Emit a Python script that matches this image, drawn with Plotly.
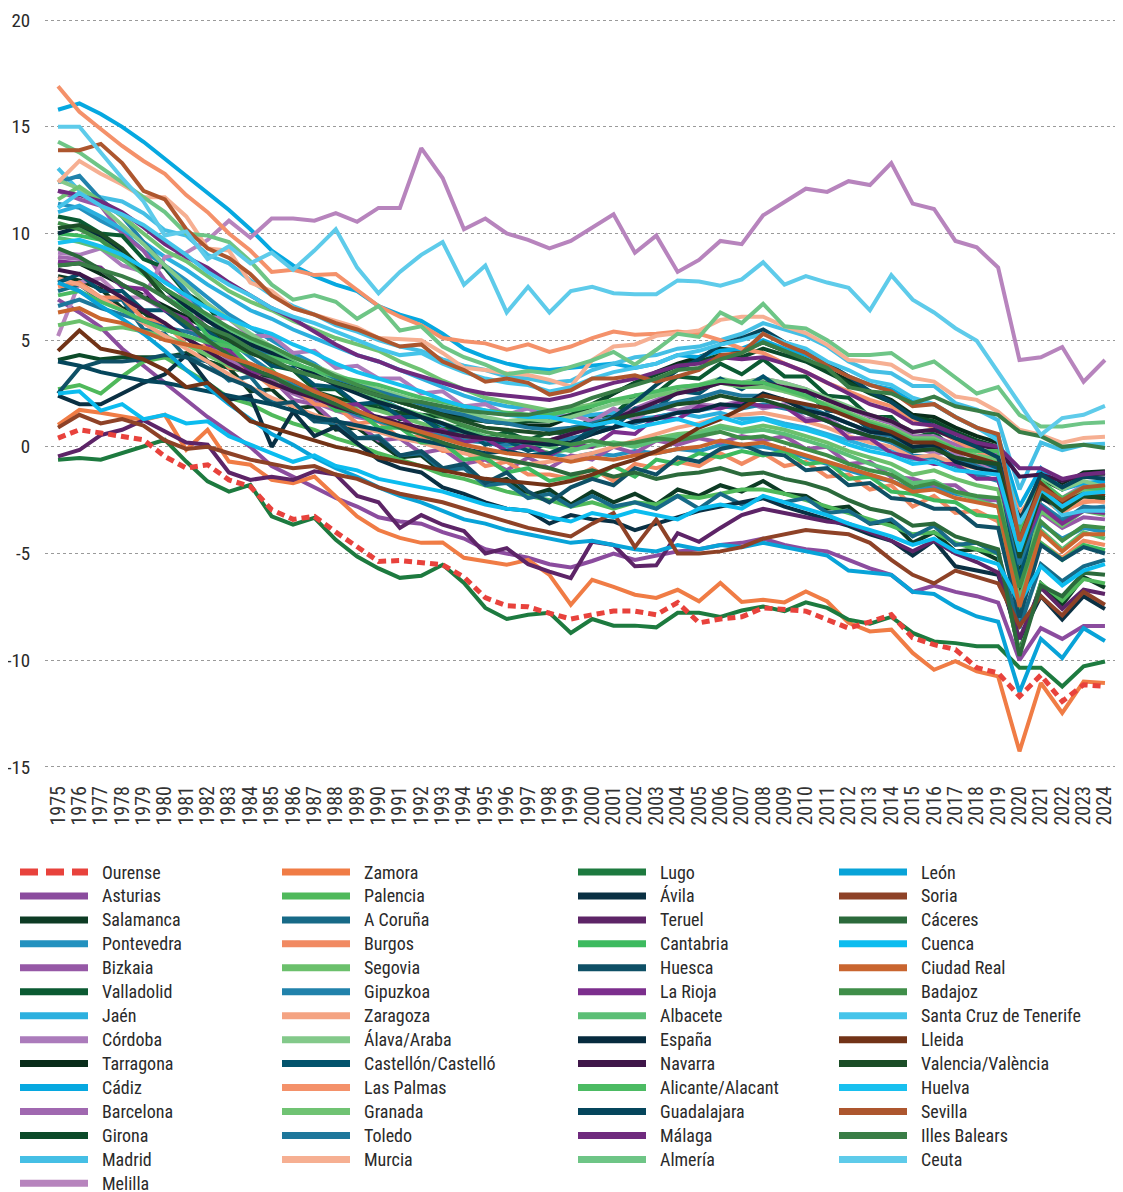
import plotly.graph_objects as go

years = list(range(1975, 2025))

# natural growth per province
ourense = [0.41, 0.8, 0.65, 0.5, 0.33, -0.45, -1.0, -0.84, -1.55, -1.86,
           -2.95, -3.4, -3.26, -4.0, -4.67, -5.37, -5.33, -5.42, -5.53, -6.1,
           -7.07, -7.45, -7.5, -7.8, -8.07, -7.87, -7.7, -7.7, -7.87, -7.3,
           -8.25, -8.07, -7.97, -7.55, -7.63, -7.7, -8.1, -8.5, -8.2, -7.87,
           -8.95, -9.27, -9.5, -10.35, -10.6, -11.7, -10.7, -11.93, -11.15, -11.23]
asturias = [6.9, 6.3, 5.6, 4.6, 3.8, 3.0, 2.2, 1.4, 0.7, 0.0,
            -0.9, -1.4, -1.9, -2.4, -2.8, -3.3, -3.5, -3.6, -4.0, -4.3,
            -4.8, -5.0, -5.2, -5.5, -5.65, -5.35, -5.0, -5.3, -5.1, -4.9,
            -4.8, -4.6, -4.5, -4.3, -4.6, -4.8, -4.9, -5.3, -5.7, -6.0,
            -6.8, -6.5, -6.8, -7.0, -7.3, -10.0, -8.5, -9.0, -8.4, -8.4]
salamanca = [8.0, 7.8, 7.4, 6.5, 6.3, 5.5, 5.2, 4.0, 3.7, 2.6,
             2.7, 1.8, 1.9, 0.8, 0.9, 0.2, -0.5, -0.4, -1.2, -0.9,
             -1.7, -1.5, -2.3, -2.0, -2.7, -2.1, -2.6, -2.2, -2.7, -2.0,
             -2.3, -1.8, -2.1, -1.6, -2.2, -2.3, -2.9, -2.8, -3.6, -3.5,
             -4.5, -4.0, -4.9, -4.8, -5.3, -9.6, -6.4, -7.4, -6.1, -6.6]
pontevedra = [11.4, 11.2, 10.6, 10.1, 9.2, 8.5, 7.8, 7.0, 6.2, 5.6,
              5.0, 4.4, 3.9, 3.2, 2.7, 2.3, 1.8, 1.4, 1.0, 0.6,
              0.2, 0.0, -0.1, -0.3, -0.5, -0.3, -0.4, -0.2, -0.3, -0.1,
              -0.2, 0.1, 0.0, 0.0, -0.2, -0.5, -0.8, -1.1, -1.4, -1.6,
              -2.0, -1.9, -2.2, -2.4, -2.5, -8.3, -3.6, -4.3, -3.8, -4.0]
bizkaia = [12.0, 11.6, 11.3, 10.0, 9.2, 7.8, 7.0, 5.4, 4.8, 3.5,
           3.2, 2.2, 2.0, 1.1, 1.1, 0.3, 0.4, -0.3, -0.1, -0.8,
           -0.6, -1.1, -0.5, -1.0, -0.4, -0.6, 0.0, -0.3, 0.3, 0.1,
           0.4, 0.2, 0.5, 0.3, 0.5, -0.1, 0.0, -0.8, -0.7, -1.4,
           -1.5, -1.8, -1.8, -2.5, -2.5, -5.5, -3.1, -3.8, -3.3, -3.4]
valladolid = [10.8, 10.6, 10.0, 9.9, 8.8, 8.4, 7.2, 6.6, 5.3, 4.9,
              3.8, 3.6, 2.7, 2.7, 1.9, 2.0, 1.3, 1.4, 0.8, 1.0,
              0.4, 0.7, 0.3, 0.7, 0.6, 1.4, 1.5, 2.4, 2.5, 3.3,
              3.2, 3.9, 3.4, 4.1, 3.3, 3.3, 2.4, 2.3, 1.4, 1.4,
              0.4, 0.7, -0.2, -0.1, -0.4, -6.8, -2.3, -3.1, -2.4, -2.5]
jaen = [11.0, 11.3, 10.8, 10.2, 9.6, 8.9, 8.3, 7.6, 7.0, 6.4,
        6.0, 5.5, 5.1, 4.7, 4.3, 4.0, 3.6, 3.2, 2.8, 2.4,
        2.1, 1.9, 1.8, 1.6, 1.4, 1.5, 1.6, 1.3, 1.4, 1.6,
        1.4, 1.6, 1.3, 1.35, 1.1, 0.9, 0.6, 0.3, 0.0, -0.2,
        -0.6, -0.5, -0.8, -0.9, -1.0, -4.2, -2.0, -2.7, -2.2, -2.05]
cordoba = [9.1, 9.0, 9.3, 8.5, 8.2, 7.0, 7.0, 6.1, 6.0, 5.2,
           5.2, 4.4, 4.5, 3.7, 3.8, 3.2, 3.2, 2.5, 2.6, 1.9,
           2.0, 1.5, 1.8, 1.3, 1.5, 1.2, 1.8, 1.3, 1.9, 1.7,
           2.0, 1.9, 2.2, 1.8, 2.0, 1.3, 1.4, 0.7, 0.8, 0.2,
           0.0, -0.3, -0.3, -0.9, -0.9, -5.5, -1.8, -2.4, -1.8, -1.7]
tarragona = [8.5, 8.6, 8.1, 7.6, 7.1, 6.6, 6.1, 5.5, 5.0, 4.6,
             4.3, 3.9, 3.5, 3.1, 2.7, 2.4, 2.1, 1.8, 1.6, 1.4,
             1.2, 1.1, 1.0, 1.0, 1.4, 1.9, 2.5, 3.0, 3.5, 3.9,
             4.2, 4.6, 4.5, 4.9, 4.5, 4.1, 3.6, 3.1, 2.6, 2.2,
             1.5, 1.4, 0.9, 0.5, 0.2, -3.9, -1.2, -1.8, -1.2, -1.15]
cadiz = [15.8, 16.1, 15.6, 15.0, 14.3, 13.5, 12.7, 11.9, 11.1, 10.2,
         9.2, 8.5, 8.0, 7.6, 7.3, 6.6, 6.2, 5.9, 5.3, 4.6,
         4.2, 3.9, 3.7, 3.6, 3.7, 3.8, 3.9, 3.7, 3.9, 4.3,
         4.2, 4.5, 4.6, 5.0, 4.6, 4.3, 3.9, 3.3, 2.9, 2.7,
         2.1, 2.0, 1.4, 0.9, 0.5, -2.8, -1.0, -2.0, -1.7, -1.6]
barcelona = [8.9, 8.8, 8.3, 7.6, 7.0, 6.4, 5.6, 4.8, 4.1, 3.5,
             3.0, 2.5, 2.1, 1.7, 1.4, 1.2, 1.0, 0.8, 0.6, 0.4,
             0.3, 0.2, 0.3, 0.3, 0.6, 1.0, 1.4, 1.8, 2.2, 2.6,
             2.8, 3.1, 3.0, 3.2, 3.0, 2.7, 2.2, 1.8, 1.4, 1.1,
             0.5, 0.5, 0.1, -0.2, -0.4, -4.6, -1.4, -1.9, -1.4, -1.3]
girona = [4.07, 4.3, 4.1, 4.2, 4.2, 4.2, 4.4, 4.0, 3.7, 3.5,
          3.3, 3.0, 2.6, 2.3, 2.0, 1.8, 1.6, 1.5, 1.4, 1.3,
          1.2, 1.1, 1.2, 1.2, 1.5, 2.0, 2.5, 3.0, 3.4, 3.8,
          4.0, 4.3, 4.2, 4.6, 4.3, 4.0, 3.5, 3.0, 2.5, 2.1,
          1.4, 1.2, 0.7, 0.3, 0.0, -6.1, -1.5, -2.0, -1.3, -1.25]
madrid = [13.05, 12.0, 11.7, 11.5, 10.95, 10.15, 9.9, 9.0, 8.6, 7.8,
          7.1, 6.6, 6.2, 5.7, 5.4, 5.0, 4.7, 4.5, 4.1, 3.8,
          3.6, 3.3, 3.2, 3.0, 3.1, 3.6, 3.9, 4.2, 4.3, 4.6,
          4.7, 5.0, 5.3, 5.8, 5.5, 5.2, 4.7, 4.0, 3.55, 3.45,
          2.85, 2.85, 2.05, 1.75, 1.25, -2.0, 0.2, -0.15, 0.1, 0.15]
melilla = [5.2, 7.7, 7.9, 7.0, 7.0, 8.9, 9.1, 9.7, 10.6, 9.8,
           10.7, 10.7, 10.6, 10.95, 10.55, 11.2, 11.2, 14.0, 12.6, 10.2,
           10.7, 10.0, 9.7, 9.3, 9.65, 10.25, 10.9, 9.1, 9.9, 8.2,
           8.76, 9.65, 9.5, 10.85, 11.5, 12.1, 11.95, 12.45, 12.27, 13.3,
           11.4, 11.15, 9.65, 9.35, 8.4, 4.07, 4.2, 4.68, 3.05, 4.07]
zamora = [1.03, 1.73, 1.6, 1.42, 1.26, 1.5, -0.14, 0.8, -0.69, -0.84,
          -1.55, -1.7, -1.39, -2.33, -3.26, -3.9, -4.27, -4.5, -4.48, -5.2,
          -5.37, -5.53, -5.3, -6.0, -7.4, -6.23, -6.56, -6.93, -7.08, -6.7,
          -7.24, -6.38, -7.27, -7.17, -7.29, -6.78, -7.25, -8.25, -8.65, -8.57,
          -9.66, -10.45, -10.05, -10.52, -10.76, -14.27, -11.07, -12.47, -11.0, -11.07]
palencia = [2.7, 2.9, 2.5, 3.3, 4.0, 4.2, 3.6, 3.0, 2.3, 2.0,
            1.5, 1.1, 0.8, 0.4, 0.1, -0.3, -0.6, -0.9, -1.3, -1.5,
            -1.8, -2.1, -2.3, -2.5, -2.8, -2.6, -2.9, -2.6, -2.7, -2.3,
            -2.4, -2.2, -2.0, -2.0, -2.2, -2.5, -2.8, -3.1, -3.4, -3.7,
            -4.1, -4.0, -4.5, -4.8, -5.0, -9.7, -6.4, -7.2, -6.2, -6.4]
coruna = [7.3, 7.6, 6.9, 6.9, 5.5, 5.3, 4.2, 4.0, 3.1, 3.3,
          2.1, 2.0, 1.2, 1.1, 0.4, 0.5, -0.4, -0.3, -1.1, -1.0,
          -1.8, -1.7, -2.4, -2.2, -2.8, -2.3, -2.8, -2.6, -2.9, -2.3,
          -2.9, -2.2, -2.7, -2.4, -2.6, -2.4, -3.1, -3.0, -3.6, -3.4,
          -4.2, -3.7, -4.6, -4.5, -5.0, -8.5, -5.5, -6.3, -5.6, -5.3]
burgos = [7.5, 7.7, 7.0, 7.0, 6.0, 5.8, 4.8, 4.7, 3.7, 3.6,
          2.8, 2.8, 2.0, 1.9, 1.1, 1.2, 0.4, 0.5, -0.2, -0.2,
          -0.9, -0.7, -1.3, -1.3, -1.5, -1.0, -1.6, -0.8, -1.0, -0.7,
          -0.9, -0.3, -0.8, -0.3, -0.9, -0.7, -1.4, -1.3, -2.0, -1.8,
          -2.8, -2.3, -3.1, -3.0, -3.5, -7.1, -4.5, -5.2, -4.4, -4.6]
segovia = [5.7, 5.9, 5.5, 5.6, 5.4, 5.2, 4.8, 4.3, 3.8, 3.4,
           3.0, 2.7, 2.4, 2.1, 1.9, 1.7, 1.4, 1.1, 0.8, 0.5,
           0.3, 0.1, 0.0, -0.3, -0.1, 0.0, 0.2, 0.1, 0.4, 0.6,
           0.7, 1.0, 0.8, 1.0, 0.8, 0.5, 0.2, -0.2, -0.5, -0.8,
           -1.3, -1.1, -1.5, -1.8, -2.0, -6.2, -3.0, -3.7, -3.0, -3.2]
gipuzkoa = [12.4, 12.7, 11.6, 10.8, 9.6, 8.5, 7.3, 6.0, 5.0, 4.2,
            3.5, 2.9, 2.4, 1.9, 1.5, 1.2, 0.9, 0.7, 0.5, 0.3,
            0.2, 0.1, 0.2, 0.2, 0.4, 0.6, 0.9, 1.1, 1.4, 1.6,
            1.7, 1.9, 1.8, 2.0, 1.8, 1.6, 1.2, 0.8, 0.5, 0.2,
            -0.4, -0.5, -0.9, -1.3, -1.6, -3.8, -2.7, -3.4, -2.9, -2.8]
zaragoza = [7.9, 7.6, 7.0, 6.4, 5.8, 5.2, 4.6, 4.0, 3.4, 2.8,
            2.3, 1.9, 1.5, 1.2, 0.9, 0.7, 0.4, 0.2, -0.1, -0.3,
            -0.5, -0.6, -0.8, -0.7, -0.5, -0.3, 0.0, 0.3, 0.6, 0.9,
            1.1, 1.4, 1.5, 1.6, 1.4, 1.2, 0.9, 0.5, 0.2, 0.0,
            -0.5, -0.4, -0.8, -1.0, -1.2, -5.0, -2.3, -3.1, -2.5, -2.6]
alava = [12.5, 12.1, 11.3, 10.4, 9.5, 8.5, 7.6, 6.7, 6.0, 5.3,
         4.7, 4.2, 3.8, 3.4, 3.0, 2.7, 2.4, 2.1, 1.8, 1.6,
         1.4, 1.2, 1.3, 1.2, 1.4, 1.7, 2.0, 2.2, 2.5, 2.8,
         2.9, 3.2, 3.0, 3.2, 3.0, 2.7, 2.3, 1.9, 1.5, 1.2,
         0.7, 0.8, 0.4, 0.1, 0.0, -3.3, -1.4, -2.0, -1.6, -1.9]
castellon = [7.7, 8.1, 7.3, 7.3, 6.4, 6.4, 5.6, 5.5, 4.6, 4.6,
             3.8, 3.7, 2.9, 2.8, 2.0, 2.1, 1.4, 1.4, 0.7, 0.8,
             0.1, 0.3, -0.2, 0.2, 0.1, 0.9, 0.9, 1.8, 1.8, 2.6,
             2.5, 3.2, 2.7, 3.3, 2.6, 2.6, 1.7, 1.6, 0.8, 0.8,
             -0.2, 0.2, -0.6, -0.6, -1.0, -6.3, -2.1, -2.9, -2.2, -2.3]
las_palmas = [16.9, 15.7, 14.9, 14.1, 13.4, 12.8, 11.8, 11.0, 10.0, 9.2,
              8.2, 8.3, 8.05, 8.1, 7.35, 6.6, 6.1, 5.7, 5.1, 4.95,
              4.85, 4.55, 4.8, 4.45, 4.7, 5.1, 5.4, 5.25, 5.3, 5.4,
              5.3, 5.0, 4.6, 4.4, 3.9, 3.5, 3.0, 2.6, 2.2, 1.9,
              1.3, 0.9, 0.3, -0.2, -0.6, -3.1, -2.0, -3.0, -2.6, -2.5]
granada = [11.6, 12.2, 11.5, 10.8, 10.0, 9.2, 8.7, 8.0, 7.3, 6.8,
           6.4, 5.9, 5.5, 5.1, 4.8, 4.5, 4.0, 3.6, 3.1, 2.7,
           2.3, 2.1, 1.9, 1.7, 1.8, 2.0, 2.2, 2.1, 2.4, 2.6,
           2.7, 3.0, 2.8, 2.8, 2.6, 2.3, 2.0, 1.6, 1.2, 0.9,
           0.4, 0.4, -0.1, -0.4, -0.6, -4.8, -1.9, -2.6, -2.0, -2.1]
toledo = [6.6, 6.9, 6.5, 6.2, 5.9, 5.6, 5.4, 5.1, 4.8, 4.6,
          4.3, 3.9, 3.5, 3.2, 2.9, 2.6, 2.3, 2.0, 1.7, 1.5,
          1.2, 1.1, 0.9, 0.8, 0.9, 1.1, 1.4, 1.6, 1.9, 2.1,
          2.3, 2.6, 2.4, 2.4, 2.2, 1.9, 1.5, 1.1, 0.7, 0.5,
          -0.1, 0.0, -0.5, -0.9, -1.3, -5.5, -2.8, -3.5, -2.8, -2.9]
murcia = [12.4, 13.4, 12.8, 12.3, 11.7, 11.7, 10.8, 9.3, 9.2, 7.7,
          7.3, 6.5, 6.2, 5.9, 5.6, 5.1, 5.05, 5.0, 4.4, 3.7,
          3.6, 3.45, 3.37, 3.14, 2.83, 4.07, 4.7, 4.8, 5.2, 5.33,
          5.45, 5.95, 6.1, 6.1, 5.65, 5.33, 4.78, 4.07, 4.0, 3.85,
          3.23, 3.06, 2.36, 2.2, 1.65, 0.8, 0.56, 0.19, 0.42, 0.47]
lugo = [-0.6, -0.52, -0.6, -0.3, 0.02, 0.33, -0.69, -1.62, -2.1, -1.78,
        -3.26, -3.65, -3.33, -4.36, -5.14, -5.7, -6.14, -6.04, -5.53, -6.38,
        -7.55, -8.07, -7.87, -7.78, -8.72, -8.07, -8.38, -8.38, -8.46, -7.78,
        -7.78, -7.97, -7.67, -7.48, -7.7, -7.29, -7.55, -8.1, -8.29, -7.97,
        -8.72, -9.12, -9.2, -9.35, -9.35, -10.35, -10.35, -11.23, -10.29, -10.06]
avila = [2.4, 2.0, 2.0, 2.5, 3.0, 3.4, 4.3, 3.0, 2.2, 2.4,
         0.0, 1.65, 0.5, 0.95, 0.2, -0.6, -1.0, -1.2, -1.9, -2.2,
         -2.6, -2.9, -3.0, -3.6, -3.2, -3.4, -3.5, -3.9, -3.6, -3.3,
         -3.0, -2.8, -2.6, -2.4, -2.8, -3.1, -3.4, -3.7, -4.1, -4.4,
         -5.1, -4.4, -5.6, -5.8, -6.0, -9.0, -7.0, -8.1, -7.0, -7.6]
teruel = [-0.45, -0.15, 0.55, 0.8, 1.25, 0.7, 0.2, 0.1, -1.2, -1.55,
          -1.4, -1.55, -1.15, -1.3, -2.3, -2.6, -3.8, -3.2, -3.65, -3.95,
          -5.0, -4.75, -5.5, -5.85, -6.15, -4.45, -4.6, -5.6, -5.55, -4.05,
          -4.45, -3.8, -3.2, -2.9, -3.1, -3.3, -3.5, -3.6, -4.0, -4.4,
          -4.9, -4.4, -5.0, -5.4, -5.9, -9.0, -6.6, -7.6, -6.7, -6.9]
cantabria = [10.0, 9.9, 9.7, 8.8, 8.3, 7.0, 6.5, 5.2, 4.8, 3.8,
             3.6, 2.7, 2.6, 1.7, 1.7, 0.9, 0.9, 0.2, 0.2, -0.6,
             -0.5, -1.2, -1.0, -1.6, -1.4, -1.5, -0.9, -1.4, -0.6, -0.8,
             -0.3, -0.5, -0.2, -0.4, -0.2, -0.8, -0.7, -1.5, -1.4, -2.1,
             -2.2, -2.5, -2.6, -3.2, -3.3, -7.8, -4.5, -5.3, -4.6, -4.85]
huesca = [2.5, 3.7, 4.0, 4.0, 4.1, 4.3, 4.2, 3.7, 3.2, 2.8,
          2.0, 2.1, 1.2, 1.3, 0.4, 0.4, -0.4, -0.2, -1.0, -0.8,
          -1.7, -1.2, -2.1, -2.6, -1.9, -1.5, -1.8, -1.0, -1.3, -0.5,
          -0.7, -0.1, 0.1, -0.3, -0.4, -1.1, -1.0, -1.8, -1.7, -2.4,
          -2.5, -2.9, -2.9, -3.7, -3.8, -8.0, -4.6, -5.3, -4.7, -5.0]
la_rioja = [8.7, 8.6, 8.4, 7.5, 7.4, 6.4, 6.0, 4.8, 4.5, 3.5,
            3.4, 2.6, 2.7, 1.9, 2.0, 1.3, 1.4, 0.7, 0.8, 0.2,
            0.4, -0.2, 0.1, -0.4, 0.1, 0.0, 0.7, 0.6, 1.4, 1.3,
            1.9, 1.8, 2.1, 1.9, 1.9, 1.2, 1.3, 0.4, 0.4, -0.3,
            -0.5, -0.8, -0.8, -1.5, -1.5, -5.0, -2.8, -3.6, -3.0, -3.1]
albacete = [9.8, 9.6, 9.3, 8.8, 8.1, 7.4, 6.8, 6.1, 5.5, 5.0,
            4.5, 4.0, 3.5, 3.0, 2.6, 2.2, 1.8, 1.5, 1.1, 0.8,
            0.5, 0.3, 0.2, 0.0, -0.2, 0.1, 0.2, 0.0, 0.3, 0.5,
            0.6, 0.9, 0.7, 0.8, 0.6, 0.3, 0.0, -0.4, -0.8, -1.1,
            -1.7, -1.6, -2.1, -2.5, -2.8, -7.2, -3.9, -4.8, -4.0, -4.3]
espana = [10.0, 10.3, 9.9, 9.2, 8.3, 7.4, 6.6, 5.9, 5.3, 4.8,
          4.4, 3.9, 3.4, 2.9, 2.5, 2.1, 1.8, 1.4, 1.1, 0.7,
          0.4, 0.3, 0.2, 0.1, 0.2, 0.6, 0.9, 1.2, 1.3, 1.6,
          1.7, 2.0, 1.9, 2.5, 2.2, 1.7, 1.5, 1.1, 0.7, 0.6,
          0.0, 0.1, -0.7, -1.0, -1.2, -3.3, -2.4, -2.9, -2.3, -2.4]
navarra = [8.3, 8.1, 7.6, 7.0, 6.4, 5.8, 5.1, 4.5, 3.9, 3.4,
           3.0, 2.6, 2.3, 1.9, 1.6, 1.4, 1.1, 0.9, 0.7, 0.5,
           0.4, 0.3, 0.3, 0.3, 0.6, 0.9, 1.3, 1.7, 2.1, 2.5,
           2.7, 3.0, 2.9, 3.0, 2.8, 2.6, 2.2, 1.8, 1.5, 1.2,
           0.7, 0.8, 0.4, 0.1, -0.1, -1.4, -1.3, -1.6, -1.3, -1.2]
alicante = [7.1, 7.3, 6.8, 6.4, 5.9, 5.5, 5.2, 4.9, 4.7, 4.4,
            4.2, 3.9, 3.6, 3.3, 3.1, 2.9, 2.6, 2.3, 2.1, 1.9,
            1.7, 1.6, 1.5, 1.5, 1.7, 1.9, 2.2, 2.4, 2.6, 2.8,
            2.9, 3.1, 3.0, 3.0, 2.7, 2.4, 1.9, 1.5, 1.1, 0.8,
            0.3, 0.3, -0.1, -0.2, -0.2, -4.0, -1.6, -2.4, -1.9, -2.0]
guadalajara = [4.0, 3.8, 3.5, 3.3, 3.1, 3.0, 2.8, 2.6, 2.4, 2.2,
               2.0, 1.7, 1.4, 1.2, 1.0, 0.8, 0.5, 0.3, 0.1, -0.1,
               -0.3, -0.2, -0.4, -0.3, 0.1, 0.7, 1.4, 2.1, 2.9, 3.6,
               4.1, 4.8, 5.1, 5.5, 4.9, 4.5, 3.9, 3.3, 2.6, 2.1,
               1.4, 1.0, 0.4, 0.0, -0.5, -3.5, -1.3, -1.9, -1.4, -1.5]
malaga = [12.0, 11.8, 11.5, 11.0, 10.3, 9.5, 8.9, 8.4, 7.7, 7.1,
          6.5, 6.0, 5.4, 4.8, 4.3, 4.0, 3.6, 3.3, 3.0, 2.7,
          2.5, 2.4, 2.3, 2.2, 2.4, 2.7, 3.0, 3.2, 3.5, 3.8,
          3.9, 4.2, 4.1, 4.2, 3.9, 3.5, 3.0, 2.5, 2.0, 1.7,
          1.1, 1.0, 0.6, 0.2, 0.0, -1.0, -1.0, -1.5, -1.3, -1.2]
almeria = [14.3, 13.8, 13.1, 12.4, 11.7, 11.0, 10.0, 9.9, 9.6, 8.7,
           7.6, 6.9, 7.1, 6.8, 6.0, 6.6, 5.45, 5.65, 4.7, 4.2,
           3.85, 3.4, 3.55, 3.45, 3.75, 4.05, 4.45, 3.85, 4.55, 5.3,
           5.15, 6.3, 5.8, 6.7, 5.65, 5.55, 5.0, 4.3, 4.3, 4.4,
           3.7, 4.0, 3.25, 2.5, 2.8, 1.5, 0.95, 0.95, 1.1, 1.15]
leon = [7.7, 7.3, 6.6, 6.0, 5.3, 4.5, 3.6, 2.8, 2.0, 1.3,
        0.6, 0.1, -0.5, -1.0, -1.4, -1.9, -2.3, -2.6, -3.0, -3.4,
        -3.6, -3.9, -4.1, -4.3, -4.5, -4.4, -4.6, -4.8, -4.9, -4.6,
        -4.8, -4.6, -4.7, -4.5, -4.7, -4.9, -5.1, -5.8, -5.9, -6.0,
        -6.8, -6.9, -7.5, -7.95, -8.2, -11.5, -9.0, -9.9, -8.5, -9.1]
soria = [0.9, 1.5, 1.1, 1.3, 1.0, 0.3, -0.1, 0.0, -0.3, -0.6,
         -0.8, -1.0, -0.9, -1.3, -1.5, -1.9, -2.2, -2.4, -2.6, -2.9,
         -3.2, -3.5, -3.8, -4.0, -4.2, -3.6, -3.1, -4.7, -3.4, -5.0,
         -5.0, -4.9, -4.7, -4.3, -4.1, -3.9, -4.0, -4.1, -4.5, -5.3,
         -6.0, -6.4, -5.8, -6.1, -6.4, -8.4, -7.0, -7.9, -6.8, -7.4]
caceres = [9.3, 8.9, 8.3, 7.6, 7.0, 6.5, 5.8, 5.0, 4.3, 3.7,
           3.3, 2.8, 2.4, 2.0, 1.6, 1.3, 0.9, 0.6, 0.2, -0.1,
           -0.4, -0.6, -0.8, -1.0, -1.3, -1.1, -1.4, -1.2, -1.5, -1.3,
           -1.2, -1.0, -1.3, -1.2, -1.5, -1.7, -2.0, -2.5, -2.9, -3.1,
           -3.7, -3.6, -4.2, -4.5, -4.8, -9.8, -6.5, -7.0, -5.9, -6.0]
cuenca = [2.5, 2.6, 1.7, 2.0, 1.3, 1.5, 1.1, 1.2, 0.5, 0.1,
          -0.3, -0.7, -0.4, -0.9, -1.1, -1.5, -1.7, -1.9, -2.1, -2.4,
          -2.7, -2.9, -3.0, -3.3, -3.5, -3.1, -3.3, -3.0, -3.2, -3.4,
          -2.9, -2.7, -2.9, -2.3, -2.6, -2.9, -3.2, -3.6, -3.9, -4.2,
          -4.6, -4.3, -4.9, -5.2, -5.5, -7.3, -5.6, -6.5, -5.8, -5.5]
ciudad_real = [6.3, 6.5, 6.0, 5.8, 5.4, 5.0, 4.8, 4.6, 4.2, 3.9,
               3.5, 3.1, 2.6, 2.2, 1.7, 1.3, 1.0, 0.7, 0.4, 0.1,
               -0.1, -0.3, -0.4, -0.5, -0.7, -0.5, -0.6, -0.4, -0.3, -0.1,
               0.0, 0.3, 0.1, 0.2, -0.1, -0.4, -0.7, -1.0, -1.3, -1.6,
               -2.1, -2.0, -2.4, -2.6, -2.8, -7.5, -4.0, -4.9, -4.1, -4.1]
badajoz = [10.5, 10.2, 9.7, 9.0, 8.2, 7.4, 6.8, 6.2, 5.6, 5.1,
           4.7, 4.2, 3.8, 3.3, 2.9, 2.5, 2.1, 1.8, 1.4, 1.0,
           0.7, 0.5, 0.4, 0.3, 0.1, 0.3, 0.1, 0.2, 0.4, 0.3,
           0.5, 0.7, 0.4, 0.5, 0.2, -0.1, -0.4, -0.8, -1.1, -1.3,
           -1.9, -1.7, -2.1, -2.3, -2.4, -6.6, -3.5, -4.4, -3.7, -3.8]
santa_cruz = [11.2, 11.9, 11.3, 10.9, 10.4, 9.7, 9.0, 8.2, 7.6, 7.1,
              6.5, 6.1, 5.8, 5.4, 5.0, 4.6, 4.3, 4.4, 3.9, 3.5,
              3.2, 3.0, 2.9, 2.6, 2.8, 3.2, 3.5, 3.7, 3.9, 4.3,
              4.5, 4.8, 5.0, 5.3, 4.9, 4.6, 4.0, 3.6, 3.1, 2.9,
              2.3, 2.0, 1.4, 0.9, 0.3, -3.6, -2.0, -3.2, -3.0, -3.0]
lleida = [4.5, 5.45, 4.6, 4.4, 4.1, 3.6, 2.8, 3.0, 2.1, 1.2,
          0.9, 0.6, 0.3, 0.0, -0.2, -0.5, -0.7, -0.9, -1.1, -1.3,
          -1.5, -1.6, -1.7, -1.8, -1.6, -1.3, -0.9, -0.6, -0.2, 0.3,
          0.9, 1.3, 1.8, 2.4, 2.2, 2.0, 1.8, 1.4, 1.0, 0.7,
          0.2, 0.2, -0.2, -0.5, -0.8, -4.4, -1.7, -2.6, -2.2, -2.3]
valencia = [10.25, 10.4, 10.0, 9.3, 8.2, 7.0, 6.3, 5.6, 5.0, 4.4,
            4.0, 3.6, 3.3, 3.0, 2.7, 2.4, 2.1, 1.8, 1.5, 1.2,
            0.9, 0.8, 0.7, 0.6, 0.8, 1.0, 1.3, 1.5, 1.7, 2.0,
            2.1, 2.4, 2.2, 2.2, 1.9, 1.6, 1.2, 0.8, 0.5, 0.3,
            -0.2, -0.1, -0.5, -0.7, -0.8, -5.2, -2.2, -3.0, -2.3, -2.4]
huelva = [9.55, 9.7, 9.4, 9.0, 8.4, 7.7, 7.1, 6.5, 6.0, 5.6,
          5.3, 4.8, 4.4, 3.9, 3.5, 3.2, 2.9, 2.6, 2.2, 1.9,
          1.7, 1.5, 1.4, 1.4, 1.2, 1.0, 1.2, 0.9, 1.1, 1.3,
          1.0, 1.4, 1.1, 1.3, 1.0, 0.8, 0.5, 0.1, -0.2, -0.4,
          -0.8, -0.7, -1.1, -1.2, -1.3, -4.9, -2.0, -2.8, -2.2, -2.1]
sevilla = [13.9, 13.9, 14.2, 13.3, 12.0, 11.6, 10.2, 9.3, 8.85, 8.1,
           7.1, 6.5, 6.2, 5.8, 5.5, 5.1, 4.7, 4.8, 4.0, 3.6,
           3.05, 3.2, 3.0, 2.45, 2.65, 3.2, 3.2, 3.35, 3.05, 3.3,
           3.6, 4.3, 4.4, 5.3, 4.8, 4.4, 3.8, 3.3, 2.9, 2.6,
           1.9, 2.0, 1.4, 0.9, 0.6, -4.4, -1.9, -2.5, -1.9, -1.8]
balears = [8.5, 8.6, 8.3, 8.0, 7.6, 7.0, 6.3, 5.6, 5.2, 4.6,
           4.1, 3.6, 3.3, 3.0, 2.7, 2.4, 2.2, 2.1, 1.9, 1.7,
           1.6, 1.5, 1.5, 1.7, 1.9, 2.3, 2.6, 2.9, 3.2, 3.6,
           3.7, 4.1, 4.4, 4.9, 4.5, 4.1, 3.7, 2.8, 2.6, 2.5,
           2.05, 2.35, 1.9, 1.7, 1.5, 0.7, 0.5, 0.0, 0.1, -0.05]
ceuta = [15.0, 15.0, 13.8, 12.6, 11.5, 9.9, 10.1, 8.8, 9.4, 8.6,
         9.1, 8.3, 9.2, 10.2, 8.4, 7.2, 8.2, 9.0, 9.6, 7.6,
         8.5, 6.3, 7.5, 6.3, 7.3, 7.5, 7.2, 7.15, 7.15, 7.8,
         7.75, 7.55, 7.85, 8.65, 7.6, 8.0, 7.7, 7.45, 6.4, 8.05,
         6.9, 6.3, 5.56, 4.97, 3.5, 2.06, 0.56, 1.35, 1.5, 1.92]

y_ticks = [-15, -10, -5, 0, 5, 10, 15, 20]

# legend columns, top to bottom: (label, values, colour)
columns = [
    [("Ourense", ourense, "#e8423c"), ("Asturias", asturias, "#8b4c9e"),
     ("Salamanca", salamanca, "#0d3b24"), ("Pontevedra", pontevedra, "#2391bf"),
     ("Bizkaia", bizkaia, "#9658a6"), ("Valladolid", valladolid, "#0b5a32"),
     ("Jaén", jaen, "#2cb0df"), ("Córdoba", cordoba, "#ab7bbb"),
     ("Tarragona", tarragona, "#082c1a"), ("Cádiz", cadiz, "#06a8e0"),
     ("Barcelona", barcelona, "#a068b0"), ("Girona", girona, "#0b4a29"),
     ("Madrid", madrid, "#45bfe5"), ("Melilla", melilla, "#b784bd")],
    [("Zamora", zamora, "#f07c45"), ("Palencia", palencia, "#4fb95b"),
     ("A Coruña", coruna, "#176a87"), ("Burgos", burgos, "#f18a62"),
     ("Segovia", segovia, "#6bc06c"), ("Gipuzkoa", gipuzkoa, "#2182ab"),
     ("Zaragoza", zaragoza, "#f4a382"), ("Álava/Araba", alava, "#83c98a"),
     ("Castellón/Castelló", castellon, "#03536c"), ("Las Palmas", las_palmas, "#f4916a"),
     ("Granada", granada, "#70c373"), ("Toledo", toledo, "#1e779b"),
     ("Murcia", murcia, "#f6af92")],
    [("Lugo", lugo, "#1d7a3f"), ("Ávila", avila, "#0a3043"),
     ("Teruel", teruel, "#5d2467"), ("Cantabria", cantabria, "#3dba5f"),
     ("Huesca", huesca, "#0f5066"), ("La Rioja", la_rioja, "#7c2e8d"),
     ("Albacete", albacete, "#5cbf76"), ("España", espana, "#062b3e"),
     ("Navarra", navarra, "#3f1649"), ("Alicante/Alacant", alicante, "#4cbb63"),
     ("Guadalajara", guadalajara, "#05465c"), ("Málaga", malaga, "#6f2a7e"),
     ("Almería", almeria, "#6ec586")],
    [("León", leon, "#08a3d8"), ("Soria", soria, "#8e4227"),
     ("Cáceres", caceres, "#2b6a3b"), ("Cuenca", cuenca, "#0cbcef"),
     ("Ciudad Real", ciudad_real, "#c9652f"), ("Badajoz", badajoz, "#3f8e49"),
     ("Santa Cruz de Tenerife", santa_cruz, "#45c4ea"), ("Lleida", lleida, "#723317"),
     ("Valencia/València", valencia, "#1b4d27"), ("Huelva", huelva, "#18c0ef"),
     ("Sevilla", sevilla, "#ad562e"), ("Illes Balears", balears, "#397d46"),
     ("Ceuta", ceuta, "#5ecbea")],
]

# the page body adds an 8px offset, so the figure is laid out 8px up/left
W, H = 1123, 1192
L, R, T, B = 37, 16, 10, 431
FONT = "Liberation Sans Narrow, Roboto Condensed, Roboto, sans-serif"

fig = go.Figure()

# draw Ourense last so the dashed line sits on top
ordered = [s for col in columns for s in col]
ordered = ordered[1:] + ordered[:1]
for name, vals, color in ordered:
    dashed = name == "Ourense"
    fig.add_trace(go.Scatter(
        x=years, y=vals, mode="lines", name=name, showlegend=False,
        line=dict(color=color, width=5 if dashed else 4,
                  dash="8px,5px" if dashed else "solid"),
    ))


# hand-built legend below the plot, 4 columns
def px_to_paper(px, py):
    return (px - L) / (W - L - R), (H - B - py) / (H - T - B)


col_x = [12, 274, 570, 831]
row0, row_step = 864, 23.95
for c, col in enumerate(columns):
    for r, (name, vals, color) in enumerate(col):
        py = row0 + r * row_step
        x0, y0 = px_to_paper(col_x[c], py)
        x1, _ = px_to_paper(col_x[c] + 68, py)
        xt, _ = px_to_paper(col_x[c] + 80, py)
        fig.add_shape(type="line", xref="paper", yref="paper",
                      x0=x0, x1=x1, y0=y0, y1=y0,
                      line=dict(color=color, width=7,
                                dash="18px,8px" if name == "Ourense" else "solid"))
        fig.add_annotation(xref="paper", yref="paper", x=xt, y=y0,
                           text=name, showarrow=False, xanchor="left", yanchor="middle",
                           font=dict(family=FONT, size=18, color="#2a2a2a"))

fig.update_layout(
    width=W, height=H, autosize=False,
    margin=dict(l=L, r=R, t=T, b=B),
    paper_bgcolor="white", plot_bgcolor="white",
    font=dict(family=FONT, color="#2a2a2a"),
    xaxis=dict(range=[1974.39, 2024.47], tickmode="array", tickvals=years,
               ticktext=[str(y) for y in years], tickangle=-90, automargin=False,
               showgrid=False, zeroline=False, showline=False,
               ticks="outside", ticklen=8, tickcolor="rgba(0,0,0,0)",
               tickfont=dict(size=20, color="#333333")),
    yaxis=dict(range=[-15.1, 20.1], tickmode="array", tickvals=y_ticks,
               ticktext=[str(v) for v in y_ticks], automargin=False,
               showgrid=True, gridcolor="#9a9a9a", griddash="dot", gridwidth=1.3,
               zeroline=False, showline=False,
               ticks="outside", ticklen=10, tickcolor="rgba(0,0,0,0)",
               tickfont=dict(size=19)),
    showlegend=False,
)

fig.write_html("out.html")
